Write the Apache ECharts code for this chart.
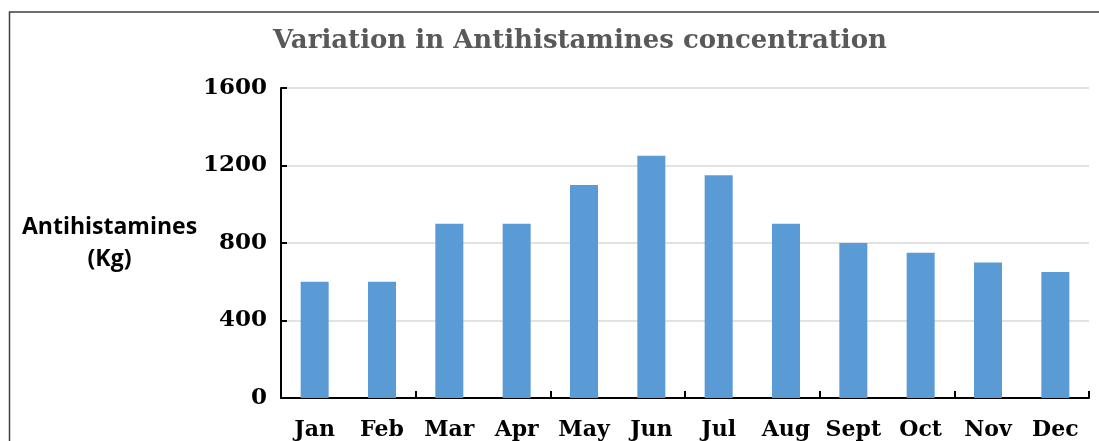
<!DOCTYPE html>
<html><head><meta charset="utf-8">
<script src="https://cdn.jsdelivr.net/npm/echarts@6/dist/echarts.min.js"></script>
<style>html,body{margin:0;padding:0;background:#fff}#c{width:1099px;height:441px}</style>
</head><body><div id="c"></div>
<script>
const categories = ['Jan','Feb','Mar','Apr','May','Jun','Jul','Aug','Sept','Oct','Nov','Dec'];
const values = [600,600,900,900,1100,1250,1150,900,800,750,700,650];
const titleText = 'Variation in Antihistamines concentration';
const yName = 'Antihistamines\n(Kg)';
const serif = '"DejaVu Serif", serif';
const chart = echarts.init(document.getElementById('c'));
chart.setOption({
  animation:false,
  backgroundColor:'#fff',
  graphic:[{type:'rect',shape:{x:9.5,y:12,width:1200,height:600},style:{fill:null,stroke:'#3f3f3f',lineWidth:1.5},silent:true}],
  title:{text:titleText,left:575,top:23,textAlign:'center',textStyle:{fontFamily:serif,fontWeight:'bold',fontSize:26,color:'#595959'}},
  grid:{left:281,right:10,top:88,bottom:43},
  xAxis:{type:'category',data:categories,
    axisLine:{lineStyle:{color:'#000',width:2}},
    axisTick:{show:true,inside:true,length:7,interval:function(i){return i%2===0 && i<11;},lineStyle:{color:'#000',width:2}},
    axisLabel:{interval:0,margin:21,fontFamily:serif,fontWeight:'bold',fontSize:22,color:'#000'}},
  yAxis:{type:'value',min:0,max:1600,interval:400,
    name:yName,nameLocation:'middle',nameRotate:0,nameGap:170,
    nameTextStyle:{fontFamily:'"Open Sans", sans-serif',fontWeight:'bold',fontSize:23,color:'#000',align:'center',lineHeight:32},
    axisLine:{show:true,lineStyle:{color:'#000',width:2}},
    axisTick:{show:true,inside:true,length:6,lineStyle:{color:'#000',width:2}},
    splitLine:{lineStyle:{color:'#d9d9d9',width:1.5}},
    axisLabel:{margin:14,fontFamily:serif,fontWeight:'bold',fontSize:23,color:'#000',formatter:function(v){return String(v);}}},
  series:[{type:'bar',data:values,barWidth:28,itemStyle:{color:'#5b9bd5'}}]
});
</script></body></html>
